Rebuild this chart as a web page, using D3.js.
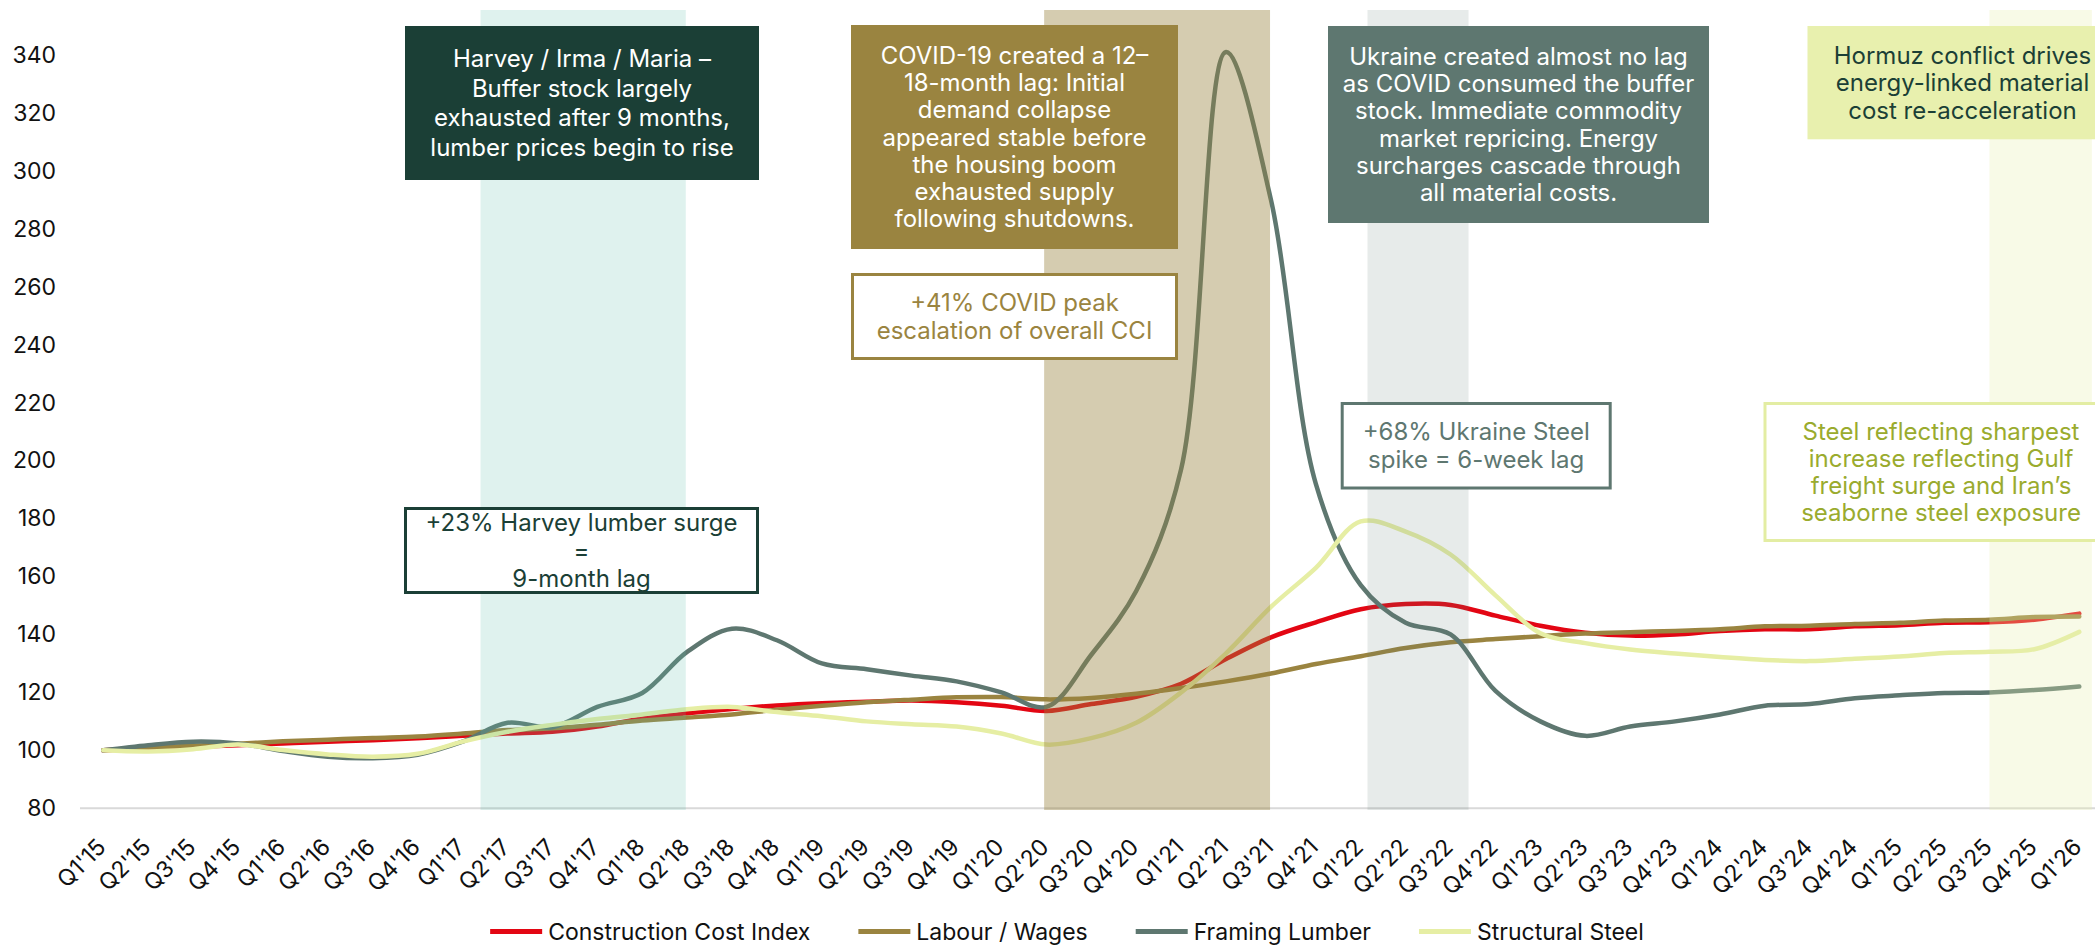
<!DOCTYPE html>
<html>
<head>
<meta charset="utf-8">
<script src="https://cdn.jsdelivr.net/npm/d3@7"></script>
<style>
  body { margin: 0; background: #fff; }
  svg text { font-family: Inter, "Noto Sans", sans-serif; }
</style>
</head>
<body>
<div id="chart"></div>
<script>
// quarter labels
var quarters = ["Q1'15","Q2'15","Q3'15","Q4'15","Q1'16","Q2'16","Q3'16","Q4'16",
    "Q1'17","Q2'17","Q3'17","Q4'17","Q1'18","Q2'18","Q3'18","Q4'18",
    "Q1'19","Q2'19","Q3'19","Q4'19","Q1'20","Q2'20","Q3'20","Q4'20",
    "Q1'21","Q2'21","Q3'21","Q4'21","Q1'22","Q2'22","Q3'22","Q4'22",
    "Q1'23","Q2'23","Q3'23","Q4'23","Q1'24","Q2'24","Q3'24","Q4'24",
    "Q1'25","Q2'25","Q3'25","Q4'25","Q1'26"];

var cciValues = [100, 100.6, 101.2, 101.8, 102.4, 103, 103.5, 104.2, 105, 105.8, 106.4, 108.2, 111, 112.8, 114.3, 115.5,
    116.3, 116.8, 117.2, 116.6, 115.4, 113.6, 116, 118.5, 123, 131.5, 139, 144.2, 148.7, 150.5, 150.2, 146.5,
    143, 140.6, 139.6, 140, 141.2, 141.8, 141.8, 142.8, 143.2, 144, 144.2, 145.1, 147.2];

var labourValues = [100, 101, 101.6, 102.3, 103.1, 103.7, 104.3, 104.8, 105.8, 107, 107.6, 108.8, 110.3, 111.3, 112.4, 114,
    115.4, 116.6, 117.5, 118.3, 118.4, 117.6, 118.1, 119.5, 121.5, 123.8, 126.5, 129.8, 132.5, 135.3, 137.3, 138.4,
    139.4, 140.3, 140.8, 141.2, 141.8, 142.8, 143, 143.6, 144, 144.8, 145.1, 146, 146.2];

var lumberValues = [100, 101.8, 103, 102.4, 99.8, 97.8, 97.3, 98.5, 103, 109.5, 108, 115, 119.8, 134, 142, 138,
    130, 128, 125.8, 123.8, 120, 115, 133, 155, 197, 341, 290, 192, 157, 144, 140, 120.5,
    110, 105, 108.2, 110, 112.4, 115.4, 116, 118, 119, 119.8, 120, 120.8, 122];

var steelValues = [100, 99.6, 100.4, 102, 100.1, 98.6, 97.8, 98.8, 103, 106.4, 108.8, 110.8, 112.4, 114.2, 115, 113.2,
    111.8, 110, 109, 108.2, 105.8, 102, 104.2, 109.5, 120, 133.5, 149.5, 163, 179, 175.5, 167.6, 153.5,
    140.4, 137, 134.8, 133.4, 132.2, 131.2, 130.8, 131.6, 132.4, 133.6, 134, 134.9, 140.9];

var seriesNames = ["Construction Cost Index", "Labour / Wages", "Framing Lumber", "Structural Steel"];
var seriesColors = ["#e30613", "#9a8440", "#5e7770", "#e6eea4"];

var yTicks = [80, 100, 120, 140, 160, 180, 200, 220, 240, 260, 280, 300, 320, 340];

// shaded event periods, in quarter index units
var bandStart = [8.4, 20.95, 28.15, 42.0];
var bandEnd = [12.97, 25.98, 30.4, 44.28];
var bandColors = ["#5fbfa8", "#9a8440", "#5e7770", "#e8f0ae"];
var bandOpacity = [0.2, 0.41, 0.15, 0.3];

var width = 2095,
    height = 945;

var svg = d3.select("#chart").append("svg")
    .attr("width", width)
    .attr("height", height);

var x = d3.scaleLinear().domain([0, quarters.length - 1]).range([103.3, 2079.3]);
var y = d3.scaleLinear().domain([80, 340]).range([808.3, 55]);

// y axis
var yAxis = svg.append("g")
    .attr("transform", "translate(80,0)")
    .call(d3.axisLeft(y).tickValues(yTicks).tickSize(0).tickPadding(24));
yAxis.select(".domain").remove();
yAxis.selectAll("text")
    .style("font-size", "23px")
    .style("font-family", "Inter")
    .attr("fill", "#111");

// baseline
svg.append("line")
    .attr("x1", 80).attr("x2", width)
    .attr("y1", y(80)).attr("y2", y(80))
    .attr("stroke", "#d9d9d9")
    .attr("stroke-width", 2);

// x axis
var xAxis = svg.append("g")
    .attr("transform", "translate(0," + y(80) + ")")
    .call(d3.axisBottom(x).tickValues(d3.range(quarters.length)).tickSize(0)
        .tickFormat(function(i){ return quarters[i]; }));
xAxis.select(".domain").remove();
xAxis.selectAll("text")
    .attr("y", null)
    .attr("dy", null)
    .attr("transform", "translate(3.4,40.2) rotate(-45)")
    .style("text-anchor", "end")
    .style("font-size", "23px")
    .style("font-family", "Inter")
    .attr("fill", "#111");

// lines
var line = d3.line()
    .x(function(d, i){ return x(i); })
    .y(function(d){ return y(d); })
    .curve(d3.curveCatmullRom.alpha(0.5));

var allSeries = [cciValues, labourValues, lumberValues, steelValues];

svg.append("g").selectAll("path")
    .data(allSeries)
  .enter()
    .append("path")
    .attr("d", line)
    .attr("fill", "none")
    .attr("stroke", function(d, i){ return seriesColors[i]; })
    .attr("stroke-width", 4.5)
    .attr("stroke-linejoin", "round")
    .attr("stroke-linecap", "round");

// bands sit over the lines, semi transparent
svg.append("g").selectAll("rect")
    .data(bandStart)
  .enter()
    .append("rect")
    .attr("x", function(d){ return x(d); })
    .attr("width", function(d, i){ return x(bandEnd[i]) - x(d); })
    .attr("y", 10)
    .attr("height", 800)
    .attr("fill", function(d, i){ return bandColors[i]; })
    .attr("opacity", function(d, i){ return bandOpacity[i]; });

// annotation boxes
var notes = [
    {x: 405, y: 26, w: 354, h: 154, fill: "#1b3f36", stroke: null, color: "#ffffff", lh: 29.5,
     lines: ["Harvey / Irma / Maria \u2013", "Buffer stock largely", "exhausted after 9 months,", "lumber prices begin to rise"]},
    {x: 405.5, y: 508.5, w: 352, h: 84, fill: "#ffffff", stroke: "#1b3f36", color: "#1b3f36", lh: 27.7,
     lines: ["+23% Harvey lumber surge", "=", "9-month lag"]},
    {x: 851, y: 25, w: 327, h: 224, fill: "#9a8440", stroke: null, color: "#ffffff", lh: 27.3,
     lines: ["COVID-19 created a 12\u2013", "18-month lag: Initial", "demand collapse", "appeared stable before",
             "the housing boom", "exhausted supply", "following shutdowns."]},
    {x: 852.5, y: 274.5, w: 324, h: 84, fill: "#ffffff", stroke: "#9a8440", color: "#9a8440", lh: 28.3,
     lines: ["+41% COVID peak", "escalation of overall CCI"]},
    {x: 1328, y: 26, w: 381, h: 197, fill: "#5e7770", stroke: null, color: "#ffffff", lh: 27.3,
     lines: ["Ukraine created almost no lag", "as COVID consumed the buffer", "stock. Immediate commodity",
             "market repricing. Energy", "surcharges cascade through", "all material costs."]},
    {x: 1342.2, y: 403.5, w: 268, h: 84.5, fill: "#ffffff", stroke: "#5e7770", color: "#5e7770", lh: 28.3,
     lines: ["+68% Ukraine Steel", "spike = 6-week lag"]},
    {x: 1807.5, y: 26, w: 310, h: 113.3, fill: "#e8f0ae", stroke: null, color: "#1b3f36", lh: 27.5,
     lines: ["Hormuz conflict drives", "energy-linked material", "cost re-acceleration"]},
    {x: 1765, y: 403.5, w: 352, h: 137, fill: "#ffffff", stroke: "#e3eda3", color: "#9aab2e", lh: 27.3,
     lines: ["Steel reflecting sharpest", "increase reflecting Gulf", "freight surge and Iran\u2019s", "seaborne steel exposure"]}
];

var noteG = svg.append("g").selectAll("g")
    .data(notes)
  .enter()
    .append("g");

noteG.append("rect")
    .attr("x", function(d){ return d.x; })
    .attr("y", function(d){ return d.y; })
    .attr("width", function(d){ return d.w; })
    .attr("height", function(d){ return d.h; })
    .attr("fill", function(d){ return d.fill; })
    .attr("stroke", function(d){ return d.stroke || "none"; })
    .attr("stroke-width", 3);

noteG.each(function(d){
    var cx = d.x + d.w / 2,
        cy = d.y + d.h / 2;
    var txt = d3.select(this).append("text")
        .attr("text-anchor", "middle")
        .attr("fill", d.color)
        .style("font-size", "24px");
    d.lines.forEach(function(t, k){
        txt.append("tspan")
            .attr("x", cx)
            .attr("y", cy + (k - (d.lines.length - 1) / 2) * d.lh)
            .attr("dominant-baseline", "central")
            .text(t);
    });
});

// legend
var legend = svg.append("g").attr("transform", "translate(0,931.6)");
var items = legend.selectAll("g")
    .data(seriesNames)
  .enter()
    .append("g");

items.append("line")
    .attr("x1", 0).attr("x2", 52)
    .attr("stroke", function(d, i){ return seriesColors[i]; })
    .attr("stroke-width", 5);

items.append("text")
    .attr("x", 58)
    .attr("dominant-baseline", "central")
    .style("font-size", "23px")
    .attr("fill", "#111")
    .text(function(d){ return d; });

var widths = [];
items.select("text").each(function(){ widths.push(58 + this.getComputedTextLength()); });
var total = d3.sum(widths) + 48 * (widths.length - 1);
var pos = 1067 - total / 2;
items.attr("transform", function(d, i){
    var p = pos;
    pos += widths[i] + 48;
    return "translate(" + p + ",0)";
});
</script>
</body>
</html>
